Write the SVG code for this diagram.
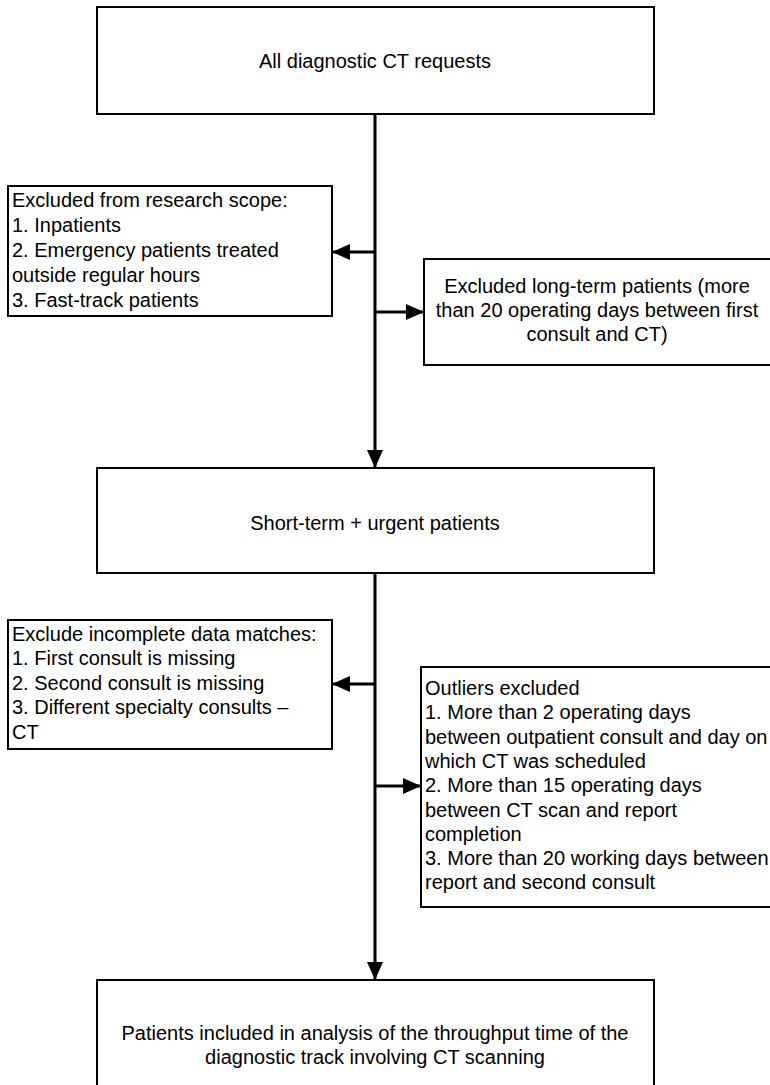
<svg xmlns="http://www.w3.org/2000/svg" width="770" height="1085" viewBox="0 0 770 1085">
  <style>
    .box { fill: #ffffff; stroke: #000000; stroke-width: 2; }
    .lbl { font-family: "Liberation Sans", Arial, sans-serif; font-size: 20px; fill: #000000; }
    .mid { text-anchor: middle; }
    .edge { fill: none; stroke: #000000; stroke-width: 3; }
  </style>
  <defs>
    <marker id="arrow" markerUnits="userSpaceOnUse" markerWidth="18" markerHeight="16" refX="18" refY="8" orient="auto">
      <path d="M0,0 L18,8 L0,16 Z" fill="#000000"/>
    </marker>
  </defs>

  <rect width="770" height="1085" fill="#ffffff"/>

  <!-- connectors -->
  <g id="connectors">
    <line class="edge" x1="375" y1="114" x2="375" y2="468" marker-end="url(#arrow)"/>
    <line class="edge" x1="375" y1="252" x2="332" y2="252" marker-end="url(#arrow)"/>
    <line class="edge" x1="375" y1="312" x2="424" y2="312" marker-end="url(#arrow)"/>
    <line class="edge" x1="375" y1="573" x2="375" y2="980" marker-end="url(#arrow)"/>
    <line class="edge" x1="375" y1="684" x2="332" y2="684" marker-end="url(#arrow)"/>
    <line class="edge" x1="375" y1="786" x2="421" y2="786" marker-end="url(#arrow)"/>
  </g>

  <!-- start node -->
  <g id="all-requests">
    <rect class="box" x="97" y="7" width="557" height="107"/>
    <text class="lbl mid" x="375" y="68">All diagnostic CT requests</text>
  </g>

  <!-- first exclusion: out of scope -->
  <g id="excluded-scope">
    <rect class="box" x="8" y="186" width="324" height="130"/>
    <text class="lbl" x="12" y="207">Excluded from research scope:</text>
    <text class="lbl" x="12" y="232">1. Inpatients</text>
    <text class="lbl" x="12" y="257">2. Emergency patients treated</text>
    <text class="lbl" x="12" y="282">outside regular hours</text>
    <text class="lbl" x="12" y="307">3. Fast-track patients</text>
  </g>

  <!-- first exclusion: long-term -->
  <g id="excluded-long-term">
    <rect class="box" x="424" y="259" width="350" height="106"/>
    <text class="lbl mid" x="597" y="293">Excluded long-term patients (more</text>
    <text class="lbl mid" x="597" y="317">than 20 operating days between first</text>
    <text class="lbl mid" x="597" y="341">consult and CT)</text>
  </g>

  <!-- intermediate population -->
  <g id="short-term-urgent">
    <rect class="box" x="97" y="468" width="557" height="105"/>
    <text class="lbl mid" x="375" y="530">Short-term + urgent patients</text>
  </g>

  <!-- second exclusion: incomplete data -->
  <g id="excluded-incomplete">
    <rect class="box" x="8" y="620" width="324" height="129"/>
    <text class="lbl" x="12" y="641">Exclude incomplete data matches:</text>
    <text class="lbl" x="12" y="665">1. First consult is missing</text>
    <text class="lbl" x="12" y="690">2. Second consult is missing</text>
    <text class="lbl" x="12" y="714">3. Different specialty consults –</text>
    <text class="lbl" x="12" y="739">CT</text>
  </g>

  <!-- second exclusion: outliers -->
  <g id="excluded-outliers">
    <rect class="box" x="421" y="667" width="353" height="240"/>
    <text class="lbl" x="425" y="695">Outliers excluded</text>
    <text class="lbl" x="425" y="719">1. More than 2 operating days</text>
    <text class="lbl" x="425" y="744">between outpatient consult and day on</text>
    <text class="lbl" x="425" y="768">which CT was scheduled</text>
    <text class="lbl" x="425" y="792">2. More than 15 operating days</text>
    <text class="lbl" x="425" y="817">between CT scan and report</text>
    <text class="lbl" x="425" y="841">completion</text>
    <text class="lbl" x="425" y="865">3. More than 20 working days between</text>
    <text class="lbl" x="425" y="889">report and second consult</text>
  </g>

  <!-- final population -->
  <g id="included">
    <rect class="box" x="97" y="980" width="557" height="110"/>
    <text class="lbl mid" x="375" y="1040">Patients included in analysis of the throughput time of the</text>
    <text class="lbl mid" x="375" y="1064">diagnostic track involving CT scanning</text>
  </g>
</svg>
